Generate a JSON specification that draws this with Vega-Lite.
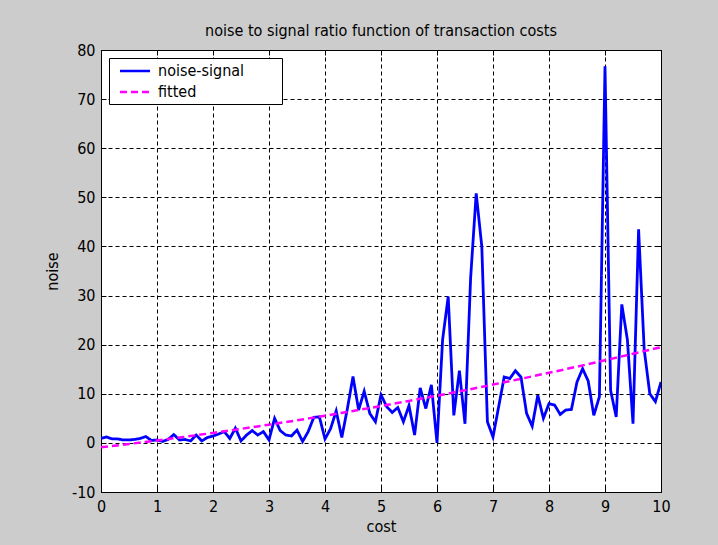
{
  "$schema": "https://vega.github.io/schema/vega-lite/v6.json",
  "width": 560,
  "height": 442,
  "autosize": {"type": "none"},
  "padding": {"left": 101, "top": 50, "right": 57, "bottom": 53},
  "background": "#cccccc",
  "config": {
    "view": {"fill": "white", "stroke": "black", "strokeWidth": 1},
    "font": "'Liberation Sans Narrow', 'DejaVu Sans Condensed', 'Liberation Sans', sans-serif",
    "axis": {
      "domain": false,
      "tickColor": "black",
      "tickSize": -5,
      "tickWidth": 1,
      "labelColor": "black",
      "labelFontSize": 16,
      "labelFlush": false,
      "labelExpr": "'' + datum.value",
      "titleColor": "black",
      "titleFontSize": 16,
      "titleFontWeight": "normal",
      "gridColor": "black",
      "gridOpacity": 1,
      "gridDash": [4, 3],
      "gridWidth": 1
    },
    "legend": {
      "labelFontSize": 16,
      "labelColor": "black"
    }
  },
  "title": {
    "text": "noise to signal ratio function of transaction costs",
    "fontSize": 16,
    "fontWeight": "normal",
    "color": "black",
    "anchor": "middle",
    "frame": "group",
    "offset": 3
  },
  "datasets": {
    "measured": [
      {"cost": 0.0, "noise": 0.9, "series": "noise-signal"},
      {"cost": 0.1, "noise": 1.2, "series": "noise-signal"},
      {"cost": 0.2, "noise": 0.8, "series": "noise-signal"},
      {"cost": 0.3, "noise": 0.8, "series": "noise-signal"},
      {"cost": 0.4, "noise": 0.6, "series": "noise-signal"},
      {"cost": 0.5, "noise": 0.6, "series": "noise-signal"},
      {"cost": 0.6, "noise": 0.7, "series": "noise-signal"},
      {"cost": 0.7, "noise": 0.9, "series": "noise-signal"},
      {"cost": 0.8, "noise": 1.3, "series": "noise-signal"},
      {"cost": 0.9, "noise": 0.5, "series": "noise-signal"},
      {"cost": 1.0, "noise": 0.6, "series": "noise-signal"},
      {"cost": 1.1, "noise": 0.3, "series": "noise-signal"},
      {"cost": 1.2, "noise": 0.7, "series": "noise-signal"},
      {"cost": 1.3, "noise": 1.7, "series": "noise-signal"},
      {"cost": 1.4, "noise": 0.6, "series": "noise-signal"},
      {"cost": 1.5, "noise": 0.7, "series": "noise-signal"},
      {"cost": 1.6, "noise": 0.4, "series": "noise-signal"},
      {"cost": 1.7, "noise": 1.6, "series": "noise-signal"},
      {"cost": 1.8, "noise": 0.4, "series": "noise-signal"},
      {"cost": 1.9, "noise": 1.1, "series": "noise-signal"},
      {"cost": 2.0, "noise": 1.4, "series": "noise-signal"},
      {"cost": 2.1, "noise": 1.8, "series": "noise-signal"},
      {"cost": 2.2, "noise": 2.3, "series": "noise-signal"},
      {"cost": 2.3, "noise": 0.9, "series": "noise-signal"},
      {"cost": 2.4, "noise": 3.0, "series": "noise-signal"},
      {"cost": 2.5, "noise": 0.4, "series": "noise-signal"},
      {"cost": 2.6, "noise": 1.6, "series": "noise-signal"},
      {"cost": 2.7, "noise": 2.5, "series": "noise-signal"},
      {"cost": 2.8, "noise": 1.6, "series": "noise-signal"},
      {"cost": 2.9, "noise": 2.3, "series": "noise-signal"},
      {"cost": 3.0, "noise": 0.6, "series": "noise-signal"},
      {"cost": 3.1, "noise": 5.0, "series": "noise-signal"},
      {"cost": 3.2, "noise": 2.5, "series": "noise-signal"},
      {"cost": 3.3, "noise": 1.6, "series": "noise-signal"},
      {"cost": 3.4, "noise": 1.4, "series": "noise-signal"},
      {"cost": 3.5, "noise": 2.6, "series": "noise-signal"},
      {"cost": 3.6, "noise": 0.3, "series": "noise-signal"},
      {"cost": 3.7, "noise": 2.3, "series": "noise-signal"},
      {"cost": 3.8, "noise": 5.2, "series": "noise-signal"},
      {"cost": 3.9, "noise": 5.3, "series": "noise-signal"},
      {"cost": 4.0, "noise": 0.8, "series": "noise-signal"},
      {"cost": 4.1, "noise": 2.9, "series": "noise-signal"},
      {"cost": 4.2, "noise": 6.5, "series": "noise-signal"},
      {"cost": 4.3, "noise": 1.1, "series": "noise-signal"},
      {"cost": 4.4, "noise": 7.0, "series": "noise-signal"},
      {"cost": 4.5, "noise": 13.5, "series": "noise-signal"},
      {"cost": 4.6, "noise": 6.7, "series": "noise-signal"},
      {"cost": 4.7, "noise": 10.5, "series": "noise-signal"},
      {"cost": 4.8, "noise": 6.0, "series": "noise-signal"},
      {"cost": 4.9, "noise": 4.3, "series": "noise-signal"},
      {"cost": 5.0, "noise": 9.8, "series": "noise-signal"},
      {"cost": 5.1, "noise": 7.4, "series": "noise-signal"},
      {"cost": 5.2, "noise": 6.2, "series": "noise-signal"},
      {"cost": 5.3, "noise": 7.2, "series": "noise-signal"},
      {"cost": 5.4, "noise": 4.3, "series": "noise-signal"},
      {"cost": 5.5, "noise": 7.6, "series": "noise-signal"},
      {"cost": 5.6, "noise": 1.6, "series": "noise-signal"},
      {"cost": 5.7, "noise": 11.2, "series": "noise-signal"},
      {"cost": 5.8, "noise": 7.0, "series": "noise-signal"},
      {"cost": 5.9, "noise": 11.8, "series": "noise-signal"},
      {"cost": 6.0, "noise": 0.0, "series": "noise-signal"},
      {"cost": 6.1, "noise": 21.0, "series": "noise-signal"},
      {"cost": 6.2, "noise": 29.8, "series": "noise-signal"},
      {"cost": 6.3, "noise": 5.6, "series": "noise-signal"},
      {"cost": 6.4, "noise": 14.7, "series": "noise-signal"},
      {"cost": 6.5, "noise": 3.9, "series": "noise-signal"},
      {"cost": 6.6, "noise": 33.5, "series": "noise-signal"},
      {"cost": 6.7, "noise": 50.8, "series": "noise-signal"},
      {"cost": 6.8, "noise": 40.0, "series": "noise-signal"},
      {"cost": 6.9, "noise": 4.3, "series": "noise-signal"},
      {"cost": 7.0, "noise": 1.2, "series": "noise-signal"},
      {"cost": 7.1, "noise": 7.3, "series": "noise-signal"},
      {"cost": 7.2, "noise": 13.4, "series": "noise-signal"},
      {"cost": 7.3, "noise": 13.1, "series": "noise-signal"},
      {"cost": 7.4, "noise": 14.7, "series": "noise-signal"},
      {"cost": 7.5, "noise": 13.4, "series": "noise-signal"},
      {"cost": 7.6, "noise": 6.0, "series": "noise-signal"},
      {"cost": 7.7, "noise": 3.4, "series": "noise-signal"},
      {"cost": 7.8, "noise": 9.7, "series": "noise-signal"},
      {"cost": 7.9, "noise": 5.0, "series": "noise-signal"},
      {"cost": 8.0, "noise": 8.0, "series": "noise-signal"},
      {"cost": 8.1, "noise": 7.7, "series": "noise-signal"},
      {"cost": 8.2, "noise": 5.8, "series": "noise-signal"},
      {"cost": 8.3, "noise": 6.7, "series": "noise-signal"},
      {"cost": 8.4, "noise": 6.8, "series": "noise-signal"},
      {"cost": 8.5, "noise": 12.4, "series": "noise-signal"},
      {"cost": 8.6, "noise": 15.1, "series": "noise-signal"},
      {"cost": 8.7, "noise": 12.6, "series": "noise-signal"},
      {"cost": 8.8, "noise": 5.6, "series": "noise-signal"},
      {"cost": 8.9, "noise": 9.4, "series": "noise-signal"},
      {"cost": 9.0, "noise": 76.7, "series": "noise-signal"},
      {"cost": 9.1, "noise": 10.7, "series": "noise-signal"},
      {"cost": 9.2, "noise": 5.3, "series": "noise-signal"},
      {"cost": 9.3, "noise": 28.2, "series": "noise-signal"},
      {"cost": 9.4, "noise": 21.0, "series": "noise-signal"},
      {"cost": 9.5, "noise": 3.9, "series": "noise-signal"},
      {"cost": 9.6, "noise": 43.5, "series": "noise-signal"},
      {"cost": 9.7, "noise": 19.0, "series": "noise-signal"},
      {"cost": 9.8, "noise": 10.0, "series": "noise-signal"},
      {"cost": 9.9, "noise": 8.4, "series": "noise-signal"},
      {"cost": 10.0, "noise": 12.4, "series": "noise-signal"}
    ],
    "fit": [
      {"cost": 0.0, "noise": -0.9, "series": "fitted"},
      {"cost": 0.5, "noise": -0.22, "series": "fitted"},
      {"cost": 1.0, "noise": 0.49, "series": "fitted"},
      {"cost": 1.5, "noise": 1.24, "series": "fitted"},
      {"cost": 2.0, "noise": 2.03, "series": "fitted"},
      {"cost": 2.5, "noise": 2.85, "series": "fitted"},
      {"cost": 3.0, "noise": 3.71, "series": "fitted"},
      {"cost": 3.5, "noise": 4.6, "series": "fitted"},
      {"cost": 4.0, "noise": 5.53, "series": "fitted"},
      {"cost": 4.5, "noise": 6.5, "series": "fitted"},
      {"cost": 5.0, "noise": 7.5, "series": "fitted"},
      {"cost": 5.5, "noise": 8.54, "series": "fitted"},
      {"cost": 6.0, "noise": 9.61, "series": "fitted"},
      {"cost": 6.5, "noise": 10.72, "series": "fitted"},
      {"cost": 7.0, "noise": 11.87, "series": "fitted"},
      {"cost": 7.5, "noise": 13.05, "series": "fitted"},
      {"cost": 8.0, "noise": 14.27, "series": "fitted"},
      {"cost": 8.5, "noise": 15.52, "series": "fitted"},
      {"cost": 9.0, "noise": 16.81, "series": "fitted"},
      {"cost": 9.5, "noise": 18.14, "series": "fitted"},
      {"cost": 10.0, "noise": 19.5, "series": "fitted"}
    ]
  },
  "layer": [
    {
      "data": {"name": "measured"},
      "mark": {"type": "line", "strokeWidth": 2.8, "clip": true},
      "encoding": {
        "x": {
          "field": "cost",
          "type": "quantitative",
          "scale": {"domain": [0, 10], "nice": false, "zero": false},
          "axis": {
            "orient": "bottom",
            "values": [0, 1, 2, 3, 4, 5, 6, 7, 8, 9, 10],
            "grid": true,
            "labelPadding": 11,
            "title": "cost",
            "titlePadding": 4
          }
        },
        "y": {
          "field": "noise",
          "type": "quantitative",
          "scale": {"domain": [-10, 80], "nice": false, "zero": false},
          "axis": {
            "orient": "left",
            "values": [-10, 0, 10, 20, 30, 40, 50, 60, 70, 80],
            "grid": true,
            "labelPadding": 11,
            "title": "noise",
            "titlePadding": 11
          }
        },
        "color": {
          "field": "series",
          "type": "nominal",
          "scale": {"domain": ["noise-signal", "fitted"], "range": ["#0000ff", "#ff00ff"]},
          "legend": {
            "title": "\u2800\u2800\u2800",
            "titleOrient": "right",
            "titleFontSize": 16,
            "titlePadding": 0,
            "orient": "none",
            "legendX": 8,
            "legendY": 8,
            "fillColor": "white",
            "strokeColor": "black",
            "padding": 4,
            "rowPadding": 4,
            "symbolType": "M-2,0H2",
            "symbolSize": 225,
            "symbolStrokeWidth": 2.5,
            "symbolOffset": 13,
            "labelOffset": 14
          }
        },
        "strokeDash": {
          "field": "series",
          "type": "nominal",
          "scale": {"domain": ["noise-signal", "fitted"], "range": [[1, 0], [7, 4]]},
          "legend": {
            "title": "\u2800\u2800\u2800",
            "titleOrient": "right",
            "titleFontSize": 16,
            "titlePadding": 0,
            "orient": "none",
            "legendX": 8,
            "legendY": 8,
            "fillColor": "white",
            "strokeColor": "black",
            "padding": 4,
            "rowPadding": 4,
            "symbolType": "M-2,0H2",
            "symbolSize": 225,
            "symbolStrokeWidth": 2.5,
            "symbolOffset": 13,
            "labelOffset": 14
          }
        }
      }
    },
    {
      "data": {"name": "fit"},
      "mark": {"type": "line", "strokeWidth": 2.5, "clip": true},
      "encoding": {
        "x": {
          "field": "cost",
          "type": "quantitative",
          "axis": {
            "orient": "top",
            "values": [0, 1, 2, 3, 4, 5, 6, 7, 8, 9, 10],
            "labels": false,
            "grid": false,
            "title": null
          }
        },
        "y": {
          "field": "noise",
          "type": "quantitative",
          "axis": {
            "orient": "right",
            "values": [-10, 0, 10, 20, 30, 40, 50, 60, 70, 80],
            "labels": false,
            "grid": false,
            "title": null
          }
        },
        "color": {"field": "series", "type": "nominal"},
        "strokeDash": {"field": "series", "type": "nominal"}
      }
    }
  ]
}
